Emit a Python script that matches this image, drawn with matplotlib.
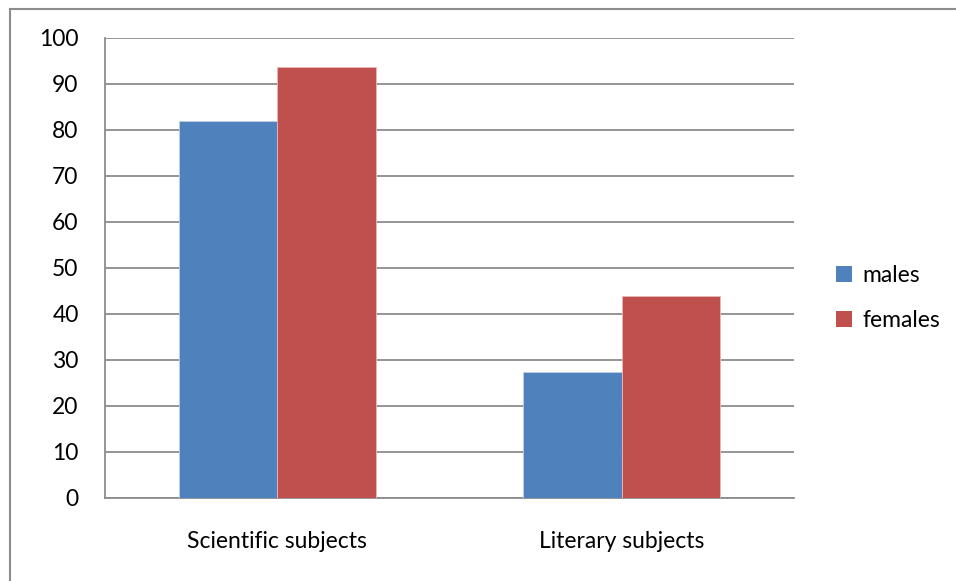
import matplotlib
matplotlib.use("Agg")
import matplotlib.pyplot as plt
from matplotlib.lines import Line2D
from matplotlib.patches import Patch
import numpy as np

categories = ["Scientific subjects", "Literary subjects"]
males = [81.8, 27.2]
females = [93.7, 43.8]
series_names = ["males", "females"]
y_ticks = [0, 10, 20, 30, 40, 50, 60, 70, 80, 90, 100]

blue = "#4f81bd"
red = "#c0504d"
grid_grey = "#8c8c8c"
fs = 16.5

plt.rcParams["font.family"] = ["Lato", "DejaVu Sans"]

W, H = 956, 581
fig = plt.figure(figsize=(W / 100, H / 100), dpi=100)
fig.patch.set_facecolor("white")

# plot area in pixel coordinates
left, right, top, bottom = 105, 794, 37.7, 497.5
ax = fig.add_axes([left / W, 1 - bottom / H, (right - left) / W, (bottom - top) / H])

x = np.arange(len(categories))
bw = 0.286
ax.bar(x - bw / 2, males, bw, color=blue, edgecolor="#bcd0e8", linewidth=0.6, zorder=3)
ax.bar(x + bw / 2, females, bw, color=red, edgecolor="#e8b8b6", linewidth=0.6, zorder=3)

ax.set_xlim(-0.5, 1.5)
ax.set_ylim(0, 100)
ax.set_yticks(y_ticks)
ax.set_xticks(x)
ax.set_xticklabels(categories, fontsize=fs)
ax.tick_params(axis="y", length=0, pad=19, labelsize=fs)
ax.tick_params(axis="x", length=0, pad=24)
ax.yaxis.grid(True, color=grid_grey, linewidth=1.3, zorder=0)
ax.set_axisbelow(True)
for s in ["top", "right"]:
    ax.spines[s].set_visible(False)
for s in ["left", "bottom"]:
    ax.spines[s].set_color(grid_grey)
    ax.spines[s].set_linewidth(1.3)

handles = [Patch(facecolor=blue, edgecolor="none"), Patch(facecolor=red, edgecolor="none")]
fig.legend(handles, series_names, loc="upper left",
           bbox_to_anchor=(827 / W, 1 - 256 / H), frameon=False,
           fontsize=fs, handlelength=0.68, handleheight=0.68,
           handletextpad=0.45, labelspacing=1.05, borderaxespad=0)

# outer chart frame
fig.add_artist(Line2D([10 / W, 10 / W], [0, 1 - 9 / H], transform=fig.transFigure,
                      color="#8c8c8c", linewidth=1.5))
fig.add_artist(Line2D([10 / W, 1], [1 - 9 / H, 1 - 9 / H], transform=fig.transFigure,
                      color="#8c8c8c", linewidth=1.5))

fig.savefig("out.png", dpi=100, facecolor="white")
